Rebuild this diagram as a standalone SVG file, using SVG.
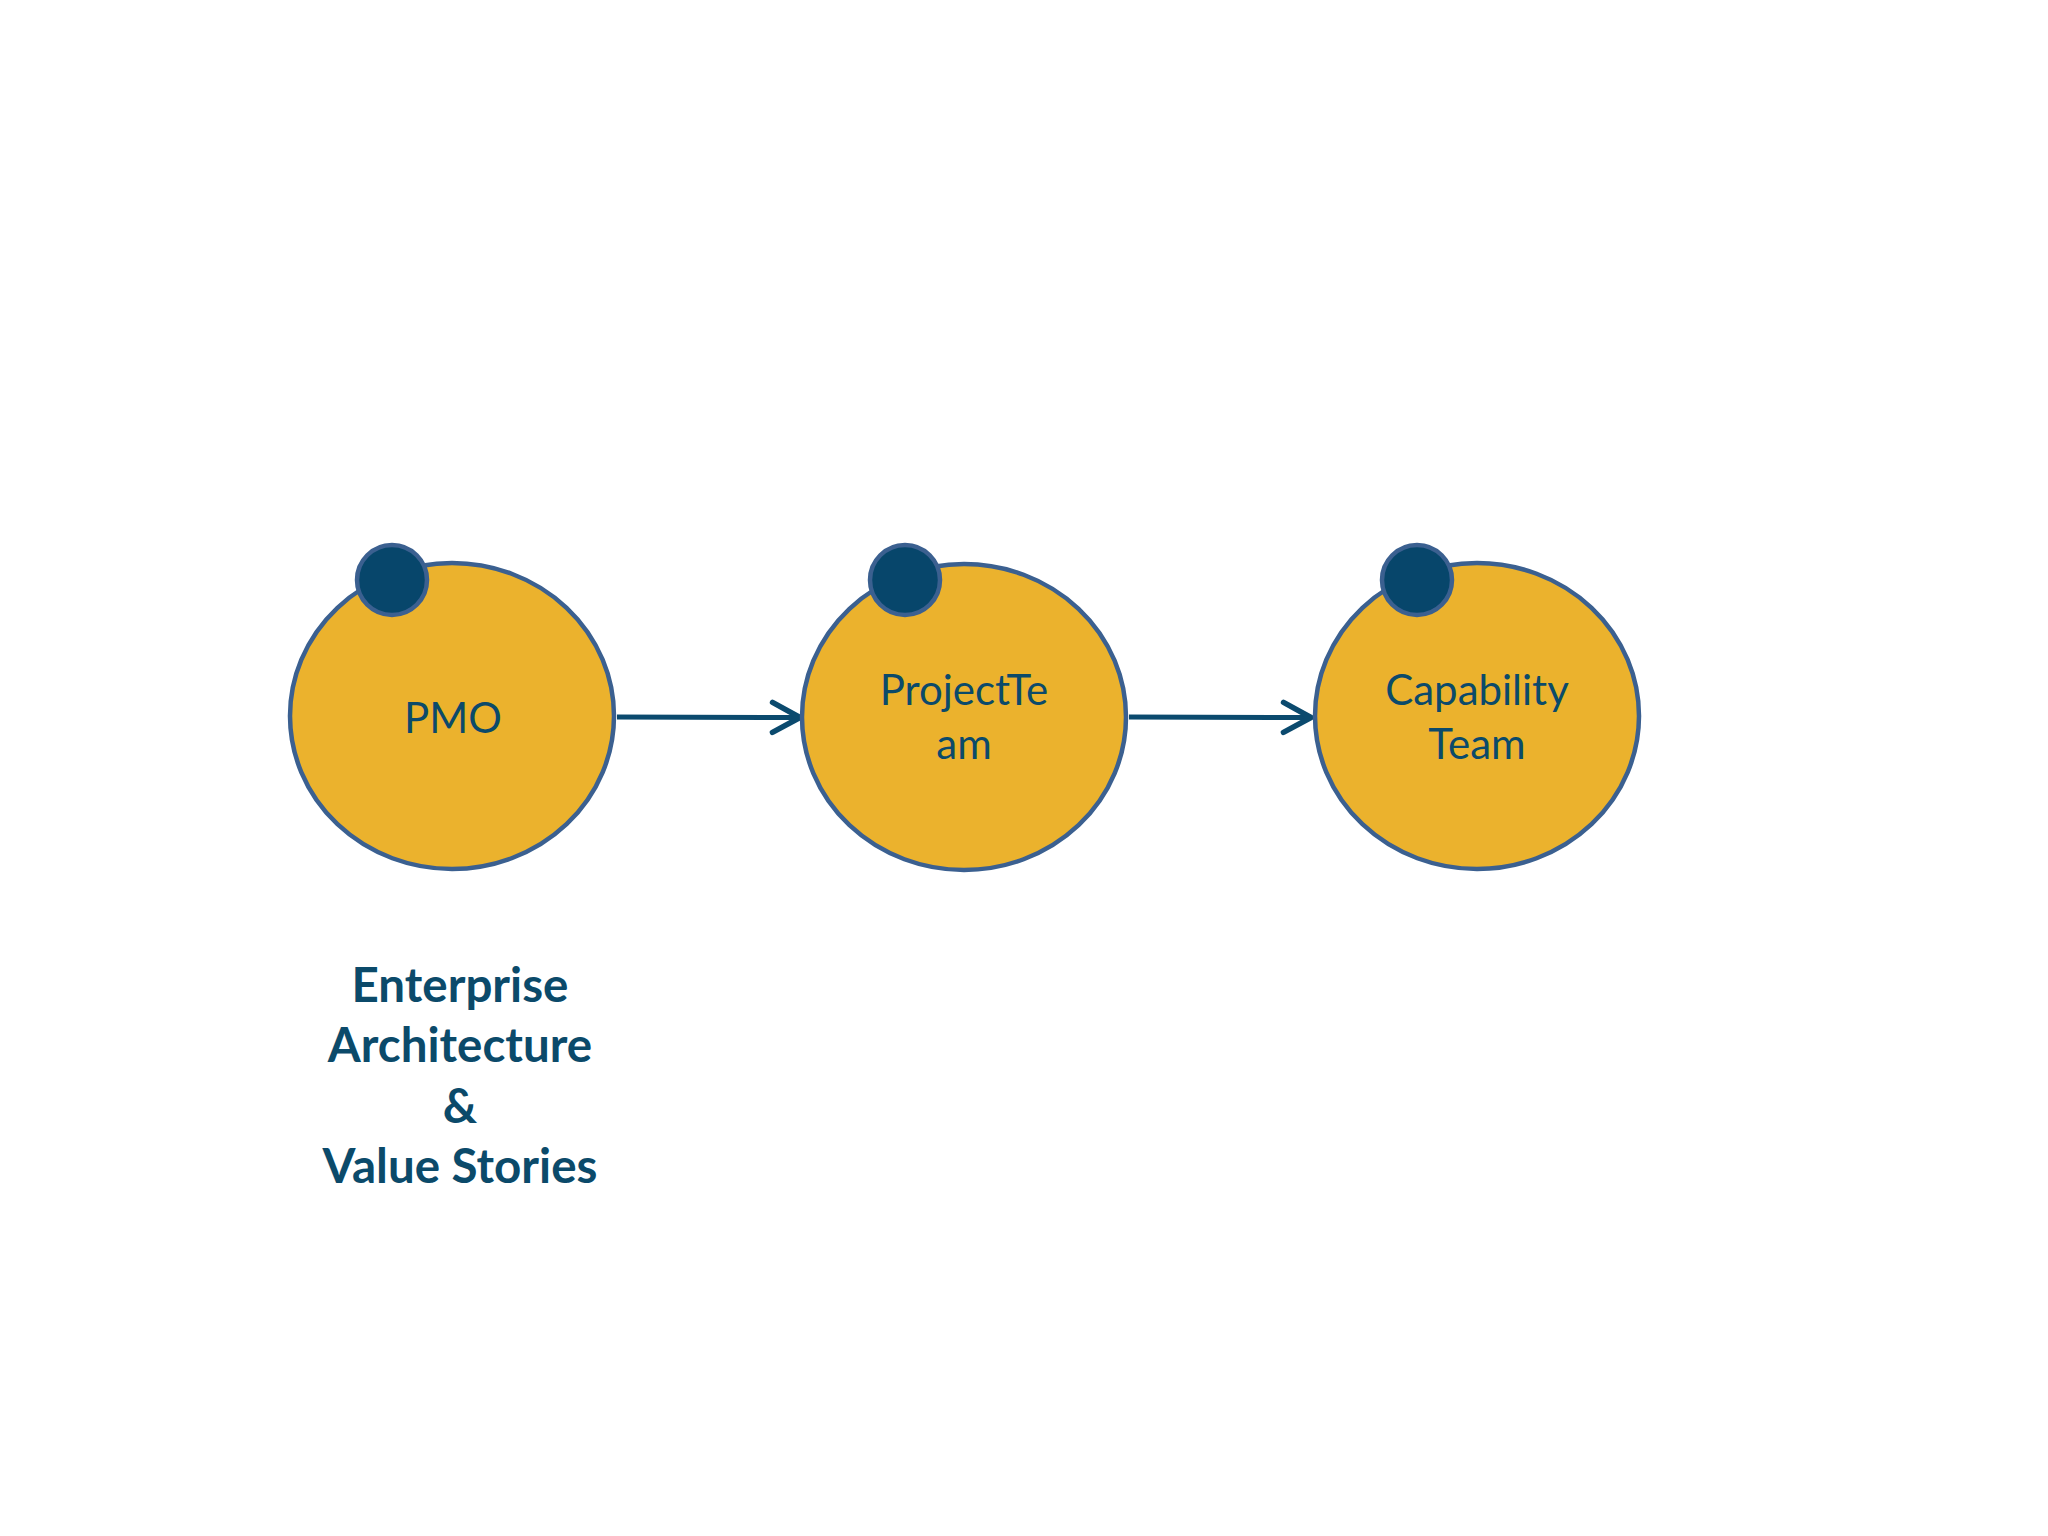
<svg xmlns="http://www.w3.org/2000/svg" width="2048" height="1536" viewBox="0 0 2048 1536">
<style>
.big{fill:#EBB22D;stroke:#3B6090;stroke-width:4.5}
.dot{fill:#07466B;stroke:#3B6090;stroke-width:4.5}
.lbl{font-family:Lato,"Open Sans",sans-serif;font-size:42px;fill:#0B4A6A;text-anchor:middle}
.note{font-family:Lato,"Open Sans",sans-serif;font-size:47.5px;font-weight:bold;fill:#0B4A6A;text-anchor:middle}
.conn{stroke:#0B4A6E;stroke-width:5;fill:none}
</style>
<defs>
<marker id="arr" markerWidth="8" markerHeight="8" refX="6.5" refY="4" orient="auto" markerUnits="strokeWidth">
<path d="M1,1 L6.5,4 L1,7" fill="none" stroke="#0B4A6E" stroke-width="1.1" stroke-linecap="round" stroke-linejoin="round"/>
</marker>
</defs>
<rect width="2048" height="1536" fill="#FFFFFF"/>
<g id="connectors">
<line class="conn" x1="617" y1="717" x2="800" y2="717.5" marker-end="url(#arr)"/>
<line class="conn" x1="1129" y1="717" x2="1311" y2="717.5" marker-end="url(#arr)"/>
</g>
<g id="node-pmo">
<ellipse class="big" cx="452" cy="716" rx="162" ry="153"/>
<circle class="dot" cx="392" cy="580" r="35"/>
<text class="lbl" x="453" y="733">PMO</text>
</g>
<g id="node-projectteam">
<ellipse class="big" cx="964" cy="717" rx="162" ry="153"/>
<circle class="dot" cx="905" cy="580" r="35"/>
<text class="lbl" x="964" y="705">ProjectTe</text>
<text class="lbl" x="964" y="759">am</text>
</g>
<g id="node-capability">
<ellipse class="big" cx="1477" cy="716" rx="162" ry="153"/>
<circle class="dot" cx="1417" cy="580" r="35"/>
<text class="lbl" x="1477" y="705">Capability</text>
<text class="lbl" x="1477" y="759">Team</text>
</g>
<g id="note">
<text class="note" x="460" y="1002">Enterprise</text>
<text class="note" x="460" y="1062">Architecture</text>
<text class="note" x="460" y="1123">&amp;</text>
<text class="note" x="460" y="1183">Value Stories</text>
</g>
</svg>
